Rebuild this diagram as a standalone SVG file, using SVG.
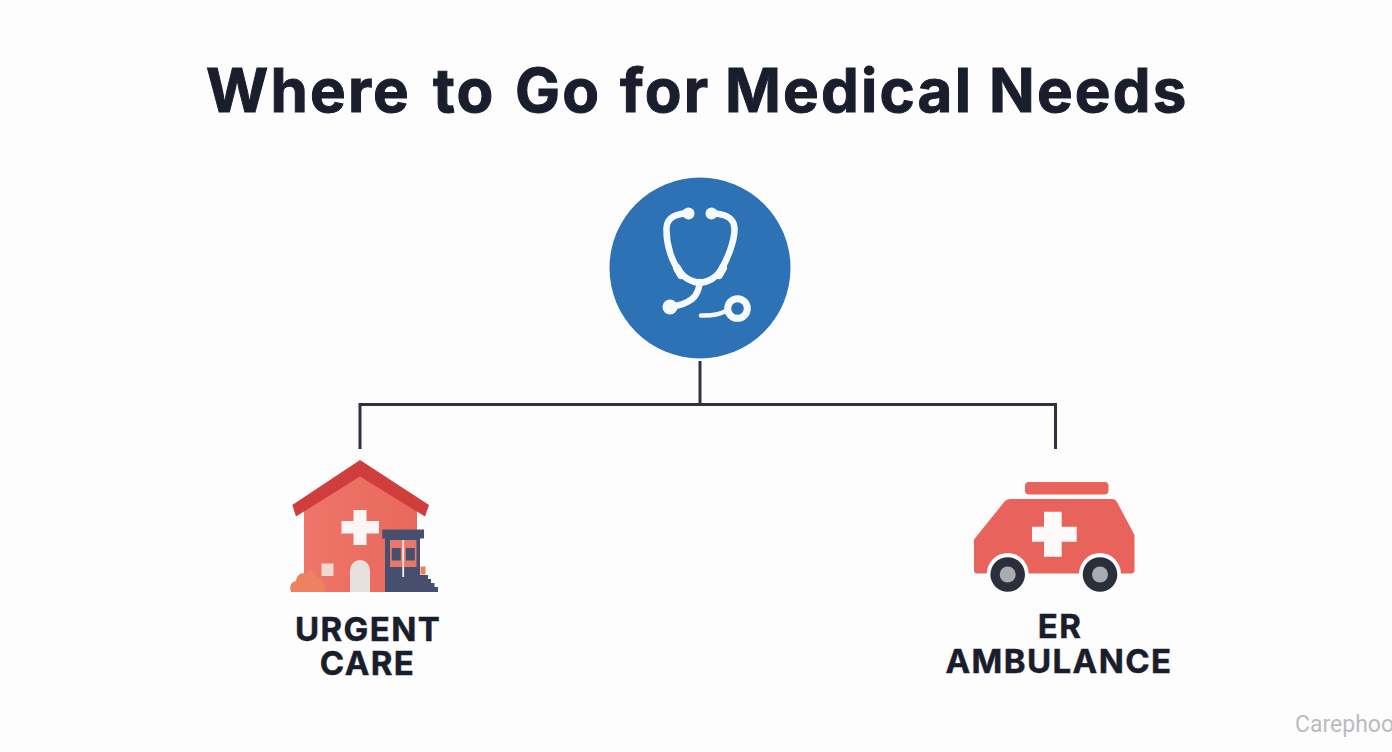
<svg xmlns="http://www.w3.org/2000/svg" width="1392" height="752" viewBox="0 0 1392 752">
<style>
.t{font-family:Inter,"Liberation Sans",sans-serif;font-weight:700;fill:#1a1e2c}
.l{font-size:33px;letter-spacing:1.4px;text-anchor:middle;stroke:#1a1e2c;stroke-width:.5}
.h{font-size:60px;letter-spacing:2.2px;stroke:#1a1e2c;stroke-width:1}
.c{fill:none;stroke:#2f3340;stroke-width:3;stroke-linecap:butt}
.w{fill:none;stroke:#f7fafc;stroke-linecap:round;stroke-linejoin:round}
</style>
<defs><linearGradient id="hb" x1="0" y1="0" x2="1" y2="0"><stop offset="0" stop-color="#ee7569"/><stop offset="1" stop-color="#e9685d"/></linearGradient></defs>
<rect id="bg" width="1392" height="752" fill="#fdfdfd"/>
<g id="title"><text class="t h" y="112"><tspan x="206">Where</tspan> <tspan x="433">to</tspan> <tspan x="515">Go</tspan> <tspan x="620">for</tspan> <tspan x="725">Medical</tspan> <tspan x="989">Needs</tspan></text></g>
<g id="connectors">
<path class="c" d="M700 361V404.500M360 449V404.500H1055.500V449"/>
</g>
<g id="node-stethoscope">
<circle cx="700" cy="268" r="90.500" fill="#2e72b6"/>
<path class="w" stroke-width="6.500" d="M688 213C678 214 667 216 666.500 228C666 245 672 262 680 272C686 280 693 282 699.500 283C708 282 716 278 721 270C728 258 735 240 734.500 228C734 216 722 214 712 213"/>
<path class="w" stroke-width="6.500" d="M699.500 282C699 297 690 304 670 307"/>
<circle cx="688.500" cy="213.500" r="6" fill="#f7fafc"/>
<circle cx="711.500" cy="213.500" r="6" fill="#f7fafc"/>
<circle cx="670" cy="307" r="7.500" fill="#f7fafc"/>
<path class="w" stroke-width="8" d="M677 268L681 275M723 268L719 275"/>
<path class="w" stroke-width="4.500" d="M701 315.500C710 316 718 315 726 311"/>
<circle cx="737.500" cy="308.500" r="9.800" fill="#2e72b6" stroke="#f7fafc" stroke-width="7"/>
</g>
<g id="node-urgent-care">
<path d="M304 510L360 476L417 510V592H304Z" fill="url(#hb)"/>
<path d="M360 460L429 505L425 516.500L360 476.500L296 516.500L292.300 505Z" fill="#cf3d3d"/>
<path d="M353.500 510H366.500V521H379V533.500H366.500V545H353.500V533.500H341.500V521H353.500Z" fill="#fdf6f4"/>
<rect x="321.500" y="563.500" width="12" height="12.500" fill="#f3d8d0"/>
<path d="M350 592V570A10 10 0 0 1 370 570V592Z" fill="#e6e0de"/>
<path d="M291 592C289 586 291 582 296 581C297 574 302 572 306 574C309 570 316 571 317 577C322 578 326 586 325 592Z" fill="#ee8260"/>
<rect x="385" y="536" width="35" height="56" fill="#46506e"/>
<rect x="382.300" y="529.500" width="41.700" height="9" fill="#46506e"/>
<rect x="390" y="540" width="26.500" height="27" fill="#e9776a"/>
<rect x="391.800" y="548" width="9" height="12.500" fill="#46506e"/>
<rect x="405.800" y="548" width="9" height="12.500" fill="#46506e"/>
<rect x="402.300" y="540" width="1.800" height="37" fill="#f4ece9"/>
<rect x="420.500" y="566.500" width="5" height="8" fill="#e9815f"/>
<path d="M420 575H428V579H431V583H434.500V587H438V592H420Z" fill="#46506e"/>
<text class="t l"><tspan x="368" y="641">URGENT</tspan><tspan x="367.500" y="675">CARE</tspan></text>
</g>
<g id="node-er-ambulance">
<rect x="1025" y="482" width="83.500" height="12.500" rx="4" fill="#e8635c"/>
<path d="M1011 499H1112Q1115.500 499 1117 502L1134.500 535V570Q1134.500 573.500 1131 573.500H977.500Q974 573.500 974 570V539.500L1005 501Q1007 499 1011 499Z" fill="#e8635c"/>
<path d="M1044 511.700H1061.700V526.700H1076.700V541.700H1061.700V556.700H1044V541.700H1032V526.700H1044Z" fill="#fefafa"/>
<circle cx="1007.700" cy="574" r="21" fill="#fdfdfd"/>
<circle cx="1100" cy="574" r="21" fill="#fdfdfd"/>
<circle cx="1007.700" cy="574.500" r="17.300" fill="#2b2f3a"/>
<circle cx="1100" cy="574.500" r="17.300" fill="#2b2f3a"/>
<circle cx="1007.700" cy="574.500" r="8" fill="#a9abb2"/>
<circle cx="1100" cy="574.500" r="8" fill="#a9abb2"/>
<text class="t l"><tspan x="1060" y="638">ER</tspan><tspan x="1059" y="673">AMBULANCE</tspan></text>
</g>
<g id="watermark"><text x="1295" y="732" font-family="Roboto,'Liberation Sans',sans-serif" font-size="23" fill="#bcbcbc">Carephoo</text></g>
</svg>
